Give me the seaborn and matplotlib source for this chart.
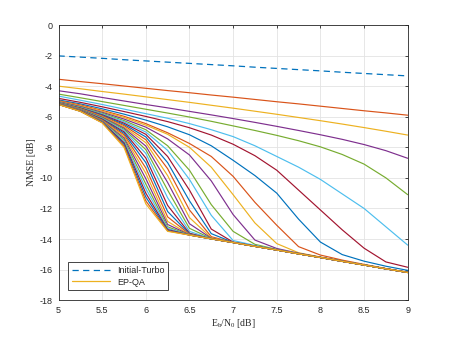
import matplotlib
matplotlib.use('Agg')
import matplotlib.pyplot as plt
import pandas as pd
import seaborn as sns
from matplotlib.lines import Line2D

# Eb/N0 grid [dB]
ebn0 = [5, 5.25, 5.5, 5.75, 6, 6.25, 6.5, 6.75, 7, 7.25, 7.5, 7.75, 8, 8.25, 8.5, 8.75, 9]

# dashed reference curve
initial_turbo = [-2.02, -2.10, -2.18, -2.27, -2.35, -2.43, -2.51, -2.59, -2.67,
                 -2.76, -2.84, -2.92, -3.00, -3.09, -3.17, -3.25, -3.33]

# NMSE of EP-QA per iteration (top curve = iteration 1, last = final)
ep_qa_iters = [
    [-3.55, -3.70, -3.84, -3.99, -4.14, -4.29, -4.43, -4.58, -4.72, -4.87, -5.02, -5.16, -5.31, -5.46, -5.61, -5.75, -5.90],
    [-4.00, -4.17, -4.35, -4.52, -4.70, -4.88, -5.06, -5.25, -5.44, -5.64, -5.84, -6.05, -6.26, -6.48, -6.71, -6.95, -7.20],
    [-4.30, -4.50, -4.74, -4.97, -5.20, -5.42, -5.65, -5.88, -6.12, -6.37, -6.63, -6.90, -7.18, -7.48, -7.82, -8.22, -8.72],
    [-4.52, -4.76, -5.01, -5.26, -5.51, -5.76, -6.02, -6.30, -6.60, -6.90, -7.22, -7.57, -7.97, -8.47, -9.10, -10.00, -11.10],
    [-4.65, -4.92, -5.20, -5.50, -5.80, -6.10, -6.45, -6.85, -7.30, -7.90, -8.60, -9.30, -10.10, -11.05, -12.00, -13.20, -14.40],
    [-4.80, -5.06, -5.35, -5.66, -5.98, -6.32, -6.72, -7.20, -7.80, -8.55, -9.50, -10.80, -12.10, -13.40, -14.60, -15.50, -15.85],
    [-4.90, -5.16, -5.48, -5.83, -6.22, -6.66, -7.18, -7.90, -8.85, -9.85, -11.00, -12.70, -14.20, -15.02, -15.45, -15.78, -16.05],
    [-4.95, -5.23, -5.58, -5.97, -6.45, -7.05, -7.75, -8.60, -9.90, -11.60, -13.10, -14.50, -15.05, -15.38, -15.66, -15.93, -16.17],
    [-4.99, -5.28, -5.64, -6.05, -6.55, -7.15, -8.00, -9.30, -11.10, -12.95, -14.30, -14.90, -15.18, -15.44, -15.69, -15.94, -16.18],
    [-5.02, -5.33, -5.71, -6.15, -6.68, -7.45, -8.50, -10.20, -12.40, -14.07, -14.62, -14.93, -15.19, -15.45, -15.70, -15.95, -16.19],
    [-5.05, -5.37, -5.77, -6.25, -6.85, -7.90, -9.50, -11.75, -13.50, -14.35, -14.68, -14.95, -15.20, -15.45, -15.70, -15.95, -16.19],
    [-5.07, -5.40, -5.82, -6.33, -7.00, -8.20, -10.10, -12.45, -14.10, -14.42, -14.70, -14.96, -15.21, -15.46, -15.70, -15.95, -16.19],
    [-5.09, -5.43, -5.87, -6.42, -7.15, -8.60, -10.80, -13.35, -14.20, -14.46, -14.71, -14.97, -15.21, -15.46, -15.70, -15.95, -16.19],
    [-5.10, -5.45, -5.91, -6.50, -7.32, -9.00, -11.50, -13.65, -14.22, -14.47, -14.72, -14.97, -15.21, -15.46, -15.70, -15.95, -16.19],
    [-5.11, -5.47, -5.95, -6.58, -7.50, -9.40, -12.10, -13.85, -14.22, -14.48, -14.72, -14.97, -15.21, -15.46, -15.70, -15.95, -16.19],
    [-5.12, -5.49, -5.99, -6.66, -7.70, -9.85, -12.60, -13.92, -14.23, -14.48, -14.72, -14.97, -15.21, -15.46, -15.70, -15.95, -16.19],
    [-5.13, -5.51, -6.03, -6.74, -7.92, -10.30, -13.00, -13.95, -14.23, -14.48, -14.72, -14.97, -15.21, -15.46, -15.70, -15.95, -16.19],
    [-5.14, -5.53, -6.07, -6.82, -8.15, -10.80, -13.30, -13.97, -14.23, -14.48, -14.72, -14.97, -15.21, -15.46, -15.70, -15.95, -16.19],
    [-5.15, -5.55, -6.11, -6.90, -8.40, -11.30, -13.50, -13.98, -14.23, -14.48, -14.72, -14.97, -15.21, -15.46, -15.70, -15.95, -16.19],
    [-5.16, -5.57, -6.15, -6.99, -8.70, -11.80, -13.62, -13.99, -14.23, -14.48, -14.72, -14.97, -15.21, -15.46, -15.70, -15.95, -16.19],
    [-5.16, -5.58, -6.19, -7.08, -9.00, -12.20, -13.66, -13.99, -14.23, -14.48, -14.72, -14.97, -15.21, -15.46, -15.70, -15.95, -16.19],
    [-5.17, -5.59, -6.22, -7.18, -9.35, -12.55, -13.69, -13.99, -14.23, -14.48, -14.72, -14.97, -15.21, -15.46, -15.70, -15.95, -16.19],
    [-5.17, -5.60, -6.25, -7.28, -9.70, -12.85, -13.71, -13.99, -14.23, -14.48, -14.72, -14.97, -15.21, -15.46, -15.70, -15.95, -16.19],
    [-5.18, -5.61, -6.28, -7.39, -10.05, -13.05, -13.72, -13.99, -14.23, -14.48, -14.72, -14.97, -15.21, -15.46, -15.70, -15.95, -16.19],
    [-5.18, -5.62, -6.31, -7.50, -10.40, -13.20, -13.73, -13.99, -14.23, -14.48, -14.72, -14.97, -15.21, -15.46, -15.70, -15.95, -16.19],
    [-5.19, -5.63, -6.33, -7.60, -10.70, -13.30, -13.74, -13.99, -14.23, -14.48, -14.72, -14.97, -15.21, -15.46, -15.70, -15.95, -16.19],
    [-5.19, -5.63, -6.35, -7.70, -11.00, -13.38, -13.74, -13.99, -14.23, -14.48, -14.72, -14.97, -15.21, -15.46, -15.70, -15.95, -16.19],
    [-5.19, -5.64, -6.37, -7.80, -11.25, -13.43, -13.74, -13.99, -14.23, -14.48, -14.72, -14.97, -15.21, -15.46, -15.70, -15.95, -16.19],
    [-5.20, -5.64, -6.39, -7.90, -11.50, -13.47, -13.74, -13.99, -14.23, -14.48, -14.72, -14.97, -15.21, -15.46, -15.70, -15.95, -16.19],
    [-5.20, -5.65, -6.40, -8.00, -11.70, -13.50, -13.74, -13.99, -14.23, -14.48, -14.72, -14.97, -15.21, -15.46, -15.70, -15.95, -16.19],
]

# MATLAB default colour order
matlab_colors = ['#0072BD', '#D95319', '#EDB120', '#7E2F8E', '#77AC30', '#4DBEEE', '#A2142F']

rows = []
for i, vals in enumerate(ep_qa_iters):
    for x, v in zip(ebn0, vals):
        rows.append({'ebn0': x, 'nmse': v, 'iter': 'it%02d' % (i + 1)})
df = pd.DataFrame(rows)
iter_names = ['it%02d' % (i + 1) for i in range(len(ep_qa_iters))]
palette = {name: matlab_colors[(i + 1) % 7] for i, name in enumerate(iter_names)}

sns.set_style('white')
plt.rcParams['font.family'] = ['Liberation Sans', 'DejaVu Sans']
plt.rcParams['axes.unicode_minus'] = False
plt.rcParams['mathtext.fontset'] = 'custom'
plt.rcParams['mathtext.rm'] = 'Liberation Serif'
plt.rcParams['mathtext.it'] = 'Liberation Serif:italic'

fig = plt.figure(figsize=(4.5, 3.38), dpi=100)
ax = fig.add_axes([0.13, 0.112, 0.776, 0.814])

sns.lineplot(x=ebn0, y=initial_turbo, color='#0072BD', linewidth=0.9, ax=ax)
dash_line = ax.lines[-1]
dash_line.set_dashes([5, 3.5])

sns.lineplot(data=df, x='ebn0', y='nmse', hue='iter', hue_order=iter_names,
             palette=palette, linewidth=0.85, legend=False, errorbar=None, ax=ax)
last_line = ax.lines[-1]

ax.set_xlim(5, 9)
ax.set_ylim(-18, 0)
ax.set_xticks([5, 5.5, 6, 6.5, 7, 7.5, 8, 8.5, 9])
ax.set_xticklabels(['5', '5.5', '6', '6.5', '7', '7.5', '8', '8.5', '9'])
ax.set_yticks(range(-18, 1, 2))
ax.grid(True, color='#e3e3e3', linewidth=0.6)
ax.set_axisbelow(True)
for s in ax.spines.values():
    s.set_color('#262626')
    s.set_linewidth(0.6)
ax.tick_params(direction='in', length=2.5, width=0.6, color='#262626',
               labelcolor='#262626', labelsize=6.5, top=True, right=True, pad=4)

ax.set_xlabel(r'$\mathrm{E_b/N_0}$ [dB]', family='Liberation Serif', fontsize=7,
              color='#262626', labelpad=2)
ax.set_ylabel('NMSE [dB]', family='Liberation Serif', fontsize=7,
              color='#262626', labelpad=3)

handles = [Line2D([], [], color='#0072BD', linewidth=0.9, dashes=[5, 3.5]),
           Line2D([], [], color='#EDB120', linewidth=0.9)]
leg = ax.legend(handles, ['Initial-Turbo', 'EP-QA'], loc='lower left', fontsize=6.5,
                frameon=True, fancybox=False, framealpha=1, edgecolor='#262626',
                handlelength=4.2, borderaxespad=1.1, labelspacing=0.3)
leg.get_frame().set_linewidth(0.6)

fig.savefig('out.png', dpi=100)
